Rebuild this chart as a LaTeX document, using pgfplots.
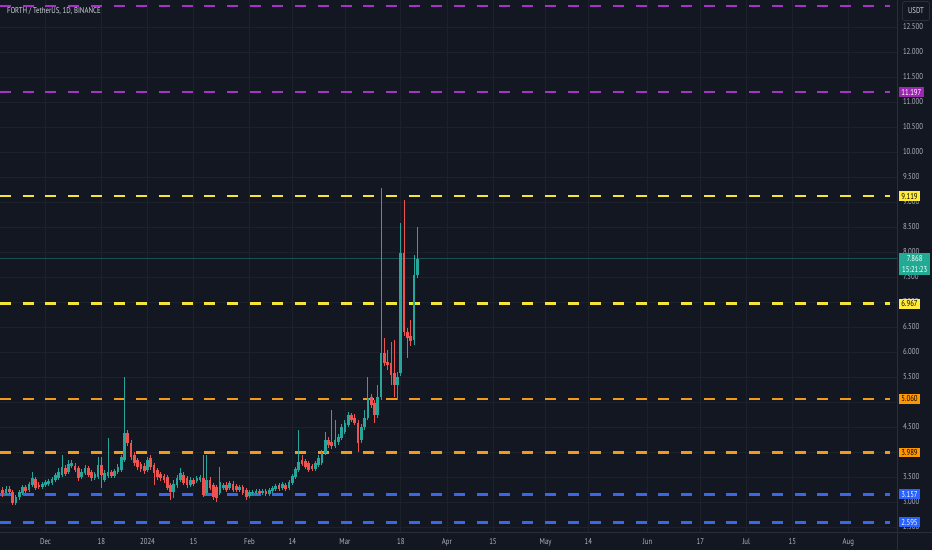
\documentclass[border=0pt]{standalone}
\usepackage{pgfplots}
\pgfplotsset{compat=1.18}
\usepackage{pgfplotstable}
\usetikzlibrary{calc}
\usepackage{fontspec}
\setmainfont[FakeStretch=0.8]{PT Sans}
\definecolor{bg}{HTML}{131722}
\definecolor{gridc}{HTML}{1D212C}
\definecolor{sepc}{HTML}{2A2E39}
\definecolor{textc}{HTML}{B2B5BE}
\definecolor{titlec}{HTML}{D1D4DC}
\definecolor{upc}{HTML}{26A69A}
\definecolor{dnc}{HTML}{EF5350}
\definecolor{purL}{HTML}{A733C4}
\definecolor{purB}{HTML}{9C27B0}
\definecolor{yelL}{HTML}{F5E53B}
\definecolor{yelB}{HTML}{FFEB3B}
\definecolor{oraL}{HTML}{F29A1C}
\definecolor{oraB}{HTML}{FF9800}
\definecolor{bluL}{HTML}{3A66E8}
\definecolor{bluB}{HTML}{2962FF}
\definecolor{curB}{HTML}{22AB94}
\pgfdeclarelayer{bgl}
\pgfsetlayers{bgl,main}

\pgfplotstableread{
d o h l c
-12 3.18 3.32 3.14 3.26
-9 2.98 3.14 2.94 3.10
-8 3.10 3.24 3.04 3.20
-7 3.18 3.34 3.14 3.30
-5 3.24 3.40 3.20 3.36
-4 3.34 3.60 3.30 3.48
-1 3.30 3.40 3.26 3.36
0 3.34 3.44 3.30 3.40
1 3.36 3.46 3.32 3.42
2 3.38 3.50 3.34 3.46
3 3.44 3.58 3.40 3.54
4 3.48 3.68 3.44 3.60
5 3.54 3.94 3.50 3.70
7 3.60 3.84 3.56 3.76
8 3.72 3.84 3.68 3.78
11 3.50 3.66 3.46 3.60
12 3.58 3.74 3.54 3.68
15 3.48 3.60 3.44 3.56
16 3.50 3.90 3.46 3.74
18 3.44 3.64 3.40 3.58
19 3.52 4.28 3.48 3.60
21 3.52 3.66 3.48 3.62
22 3.60 3.76 3.56 3.70
23 3.64 3.94 3.60 3.90
24 3.84 5.50 3.80 4.38
31 3.64 3.90 3.60 3.84
39 3.20 3.44 3.08 3.36
40 3.34 3.54 3.28 3.48
41 3.44 3.68 3.40 3.58
44 3.34 3.50 3.30 3.44
46 3.42 3.52 3.38 3.48
47 3.44 3.54 3.40 3.50
49 3.18 3.94 3.14 3.44
53 3.18 3.70 3.14 3.40
54 3.28 3.38 3.24 3.34
56 3.28 3.42 3.24 3.38
59 3.24 3.34 3.20 3.30
62 3.12 3.24 3.08 3.20
63 3.18 3.24 3.14 3.20
64 3.18 3.26 3.14 3.22
66 3.18 3.26 3.14 3.22
68 3.16 3.28 3.12 3.24
69 3.22 3.32 3.18 3.28
70 3.26 3.36 3.22 3.32
72 3.28 3.40 3.24 3.36
74 3.28 3.44 3.24 3.40
75 3.38 3.56 3.34 3.52
76 3.50 3.70 3.46 3.66
77 3.64 4.44 3.60 3.80
82 3.66 3.82 3.62 3.78
83 3.74 3.94 3.70 3.88
84 3.78 4.04 3.74 3.98
85 3.98 4.40 3.94 4.24
88 4.12 4.64 4.08 4.24
89 4.20 4.36 4.14 4.30
90 4.28 4.56 4.24 4.50
91 4.40 4.64 4.36 4.58
92 4.54 4.80 4.50 4.74
96 4.24 4.56 4.18 4.50
97 4.50 4.84 4.44 4.68
98 4.68 5.50 4.64 5.08
101 4.74 5.34 4.68 5.10
102 5.10 9.28 5.04 5.98
107 5.34 5.60 5.04 5.50
108 5.58 8.58 5.52 7.98
112 6.24 7.94 6.14 7.54
113 7.54 8.50 7.48 7.868
}\up

\pgfplotstableread{
d o h l c
-13 3.24 3.30 3.10 3.18
-11 3.26 3.32 3.16 3.20
-10 3.20 3.24 2.94 2.98
-6 3.30 3.34 3.18 3.22
-3 3.46 3.50 3.24 3.28
-2 3.34 3.40 3.26 3.30
6 3.68 3.74 3.52 3.56
9 3.72 3.78 3.60 3.64
10 3.68 3.72 3.42 3.48
13 3.68 3.72 3.50 3.54
14 3.60 3.64 3.42 3.48
17 3.74 3.90 3.28 3.54
20 3.60 3.64 3.48 3.52
25 4.38 4.44 4.12 4.18
26 4.18 4.24 3.84 3.90
27 3.94 4.00 3.72 3.78
28 3.84 3.88 3.64 3.70
29 3.76 3.80 3.60 3.66
30 3.72 3.78 3.56 3.62
32 3.88 3.94 3.64 3.70
33 3.74 3.78 3.34 3.58
34 3.64 3.68 3.44 3.50
35 3.56 3.60 3.42 3.48
36 3.52 3.56 3.38 3.44
37 3.50 3.54 3.24 3.28
38 3.34 3.38 3.04 3.20
42 3.54 3.60 3.34 3.38
43 3.48 3.52 3.28 3.34
45 3.44 3.48 3.32 3.36
48 3.48 3.94 3.10 3.14
50 3.44 3.50 3.24 3.28
51 3.34 3.38 3.04 3.10
52 3.30 3.34 3.00 3.08
55 3.34 3.40 3.20 3.24
57 3.36 3.42 3.20 3.24
58 3.32 3.36 3.20 3.24
60 3.30 3.34 3.14 3.18
61 3.24 3.28 3.04 3.10
65 3.22 3.26 3.14 3.18
67 3.22 3.26 3.12 3.16
71 3.34 3.38 3.22 3.26
73 3.34 3.38 3.22 3.26
78 3.84 3.94 3.72 3.76
79 3.82 3.86 3.66 3.70
80 3.78 3.82 3.60 3.64
81 3.72 3.76 3.62 3.66
86 4.24 4.30 4.08 4.14
87 4.20 4.84 4.06 4.12
93 4.74 4.78 4.60 4.64
94 4.68 4.76 4.54 4.58
95 4.58 4.64 4.00 4.18
99 5.10 5.16 4.88 4.94
100 4.98 5.04 4.58 4.74
103 5.98 6.28 5.72 5.78
104 5.80 6.04 5.64 5.74
105 5.78 6.20 5.34 5.54
106 5.58 6.24 5.10 5.34
109 7.98 9.04 6.32 6.40
110 6.40 6.48 5.88 6.28
111 6.32 6.64 6.12 6.22
}\down

\begin{document}
\fontsize{8.5}{10}\selectfont
\begin{tikzpicture}
\begin{axis}[
  scale only axis, width=897pt, height=532pt,
  xmin=-13.83, xmax=258.8, ymin=2.40, ymax=13.04,
  clip=false,
  axis line style={draw=none},
  tick style={draw=none}, major tick length=0pt,
  xtick={0,17,31,45,62,75,91,108,122,136,152,165,183,199,213,227,244},
  xticklabels={Dec,18,2024,15,Feb,14,Mar,18,Apr,15,May,14,Jun,17,Jul,15,Aug},
  ytick={2.5,3,3.5,4,4.5,5,5.5,6,6.5,7,7.5,8,8.5,9,9.5,10,10.5,11,11.5,12,12.5},
  yticklabel pos=right,
  /pgf/number format/assume math mode=true,
  yticklabel style={/pgf/number format/fixed, /pgf/number format/fixed zerofill, /pgf/number format/precision=3, anchor=west, xshift=3pt},
  xticklabel style={anchor=base, yshift=-12pt},
  tick label style={text=textc},
  grid=major, major grid style={draw=gridc, line width=0.8pt},
]
% level lines
\addplot[purL, line width=2.7pt, dash pattern=on 11pt off 11.7pt] coordinates {(-13.83,12.92) (256.7,12.92)};
\addplot[purL, line width=2.7pt, dash pattern=on 11pt off 11.7pt] coordinates {(-13.83,11.197) (256.7,11.197)};
\addplot[yelL, line width=2.7pt, dash pattern=on 11pt off 11.7pt] coordinates {(-13.83,9.119) (256.7,9.119)};
\addplot[yelL, line width=2.7pt, dash pattern=on 11pt off 11.7pt] coordinates {(-13.83,6.967) (256.7,6.967)};
\addplot[oraL, line width=2.7pt, dash pattern=on 11pt off 11.7pt] coordinates {(-13.83,5.060) (256.7,5.060)};
\addplot[oraL, line width=2.7pt, dash pattern=on 11pt off 11.7pt] coordinates {(-13.83,3.989) (256.7,3.989)};
\addplot[bluL, line width=2.7pt, dash pattern=on 11pt off 11.7pt] coordinates {(-13.83,3.157) (256.7,3.157)};
\addplot[bluL, line width=2.7pt, dash pattern=on 11pt off 11.7pt] coordinates {(-13.83,2.595) (256.7,2.595)};
% current price line
\addplot[upc, opacity=0.4, line width=0.6pt] coordinates {(-13.83,7.868) (258.8,7.868)};
% candles
\addplot[dnc, line width=0.9pt, no markers, quiver={u=0, v=\thisrow{h}-\thisrow{l}}] table[x=d,y=l]{\down};
\addplot[dnc, line width=2.7pt, no markers, quiver={u=0, v=\thisrow{c}-\thisrow{o}}] table[x=d,y=o]{\down};
\addplot[upc, line width=0.9pt, no markers, quiver={u=0, v=\thisrow{h}-\thisrow{l}}] table[x=d,y=l]{\up};
\addplot[upc, line width=2.7pt, no markers, quiver={u=0, v=\thisrow{c}-\thisrow{o}}] table[x=d,y=o]{\up};
% price labels
\node[fill=purB, text=white, anchor=west, xshift=2pt, inner xsep=2.2pt, inner ysep=1.8pt] at (axis cs:258.8,11.197) {11.197};
\node[fill=yelB, text=black, anchor=west, xshift=2pt, inner xsep=2.2pt, inner ysep=1.8pt] at (axis cs:258.8,9.119) {9.119};
\node[fill=yelB, text=black, anchor=west, xshift=2pt, inner xsep=2.2pt, inner ysep=1.8pt] at (axis cs:258.8,6.967) {6.967};
\node[fill=oraB, text=black, anchor=west, xshift=2pt, inner xsep=2.2pt, inner ysep=1.8pt] at (axis cs:258.8,5.060) {5.060};
\node[fill=oraB, text=black, anchor=west, xshift=2pt, inner xsep=2.2pt, inner ysep=1.8pt] at (axis cs:258.8,3.989) {3.989};
\node[fill=bluB, text=white, anchor=west, xshift=2pt, inner xsep=2.2pt, inner ysep=1.8pt] at (axis cs:258.8,3.157) {3.157};
\node[fill=bluB, text=white, anchor=west, xshift=2pt, inner xsep=2.2pt, inner ysep=1.8pt] at (axis cs:258.8,2.595) {2.595};
\node[fill=curB, text=white, anchor=north west, xshift=2pt, yshift=6pt, inner xsep=1.5pt, inner ysep=2.5pt, align=center, minimum width=31pt] at (axis cs:258.8,7.868) {7.868\\[1.5pt]15:21:23};
\node[anchor=west, text=titlec, xshift=4pt, yshift=-11pt] at (rel axis cs:0,1) {FORTH / TetherUS, 1D, BINANCE};
\coordinate (BL) at (rel axis cs:0,0);
\end{axis}
\begin{pgfonlayer}{bgl}
\fill[bg] ($(BL)+(0pt,-18pt)$) rectangle ($(BL)+(932pt,532pt)$);
\end{pgfonlayer}
\draw[sepc, line width=0.8pt] ($(BL)+(897.5pt,-18pt)$) -- ($(BL)+(897.5pt,532pt)$);
\draw[sepc, line width=0.8pt] ($(BL)+(0pt,-0.5pt)$) -- ($(BL)+(932pt,-0.5pt)$);
\node[draw=sepc, line width=0.8pt, rounded corners=2pt, minimum width=27pt, minimum height=19pt, text=titlec, inner sep=1pt] at ($(BL)+(916pt,521pt)$) {USDT};
\pgfresetboundingbox
\useasboundingbox ($(BL)+(0pt,-18pt)$) rectangle ($(BL)+(932pt,532pt)$);
\end{tikzpicture}
\end{document}
